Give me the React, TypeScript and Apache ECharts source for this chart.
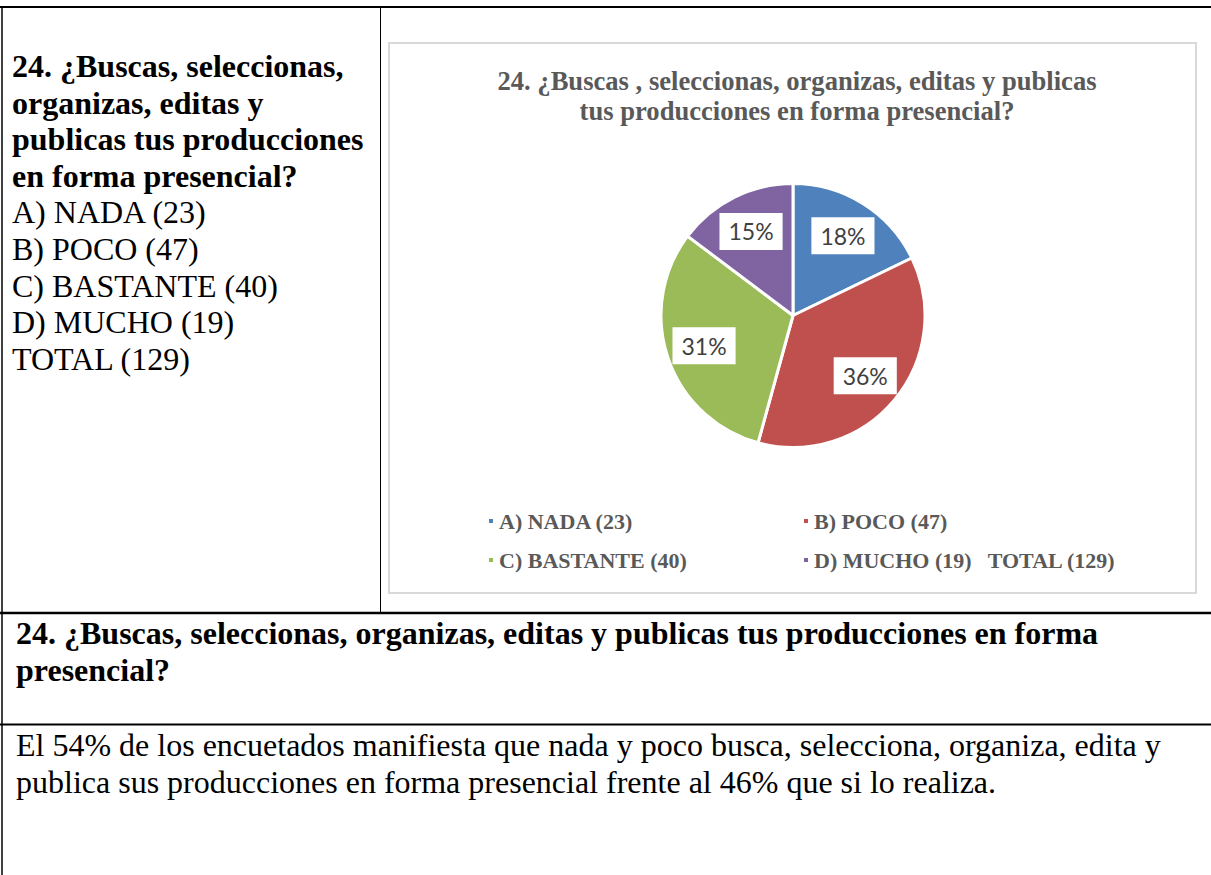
import React, { useEffect, useRef } from "react";
import * as echarts from "echarts";

const categories = ["A) NADA", "B) POCO", "C) BASTANTE", "D) MUCHO"];
const counts = [23, 47, 40, 19];
const colors = ["#4F81BD", "#C0504D", "#9BBB59", "#8064A2"];
const chartTitle = "24. ¿Buscas , seleccionas, organizas, editas y publicas\ntus producciones en forma presencial?";
const questionLines = ["24. ¿Buscas, seleccionas,", "organizas, editas y", "publicas tus producciones", "en forma presencial?"];
const bottomTitleLines = [
  "24. ¿Buscas, seleccionas, organizas, editas y publicas tus producciones en forma",
  "presencial?",
];
const analysisLines = [
  "El 54% de los encuetados manifiesta que nada y poco busca, selecciona, organiza, edita y",
  "publica sus producciones en forma presencial frente al 46% que si lo realiza.",
];

const SERIF = "'Liberation Serif', 'Times New Roman', serif";

export default function App() {
  const ref = useRef<HTMLDivElement>(null);
  useEffect(() => {
    if (!ref.current) return;
    const chart = echarts.init(ref.current, null, { renderer: "svg" });
    const total = counts.reduce((a, b) => a + b, 0);
    const names = categories.map((c, i) => `${c} (${counts[i]})`);
    names[names.length - 1] = `${names[names.length - 1]}   TOTAL (${total})`;
    const data = counts.map((v, i) => ({ name: names[i], value: v, itemStyle: { color: colors[i] } }));

    const graphics: any[] = [];
    // table lines
    const line = (x1: number, y1: number, x2: number, y2: number, w: number) =>
      graphics.push({ type: "line", shape: { x1, y1, x2, y2 }, style: { stroke: "#000", lineWidth: w }, silent: true });
    line(0, 7, 1211, 7, 2);
    line(2, 6, 2, 875, 1.5);
    line(380.5, 7, 380.5, 613, 1);
    line(0, 613, 1211, 613, 2.5);
    line(0, 724.5, 1211, 724.5, 2);
    // chart box
    graphics.push({
      type: "rect",
      shape: { x: 389, y: 43, width: 807, height: 550 },
      style: { fill: "#fff", stroke: "#D9D9D9", lineWidth: 2 },
      z: -10,
      silent: true,
    });
    const text = (t: string, x: number, y: number, bold: boolean) =>
      graphics.push({
        type: "text",
        x,
        y,
        style: {
          text: t,
          fill: "#000",
          font: `${bold ? "bold " : ""}32px ${SERIF}`,
          verticalAlign: "middle",
          align: "left",
        },
        silent: true,
      });
    const leftLines = [
      ...questionLines.map((t) => ({ t, b: true })),
      ...categories.map((c, i) => ({ t: `${c} (${counts[i]})`, b: false })),
      { t: `TOTAL (${total})`, b: false },
    ];
    leftLines.forEach((l, i) => text(l.t, 12, 66 + i * 36.6, l.b));
    bottomTitleLines.forEach((t, i) => text(t, 16, 633 + i * 37, true));
    analysisLines.forEach((t, i) => text(t, 16, 745 + i * 37, false));

    const legendText = { fontFamily: SERIF, fontWeight: "bold" as const, fontSize: 22, color: "#595959", lineHeight: 22 };
    const legendBase = {
      orient: "vertical",
      top: 505,
      icon: "rect",
      itemWidth: 6,
      itemHeight: 6,
      itemGap: 17,
      textStyle: legendText,
      selectedMode: false,
    };
    chart.setOption({
      animation: false,
      backgroundColor: "#fff",
      title: {
        text: chartTitle,
        left: 792,
        top: 61,
        textAlign: "center",
        textStyle: { fontFamily: SERIF, fontWeight: "bold", fontSize: 26.6, color: "#595959", lineHeight: 30 },
      },
      legend: [
        {
          ...legendBase,
          left: 482,
          data: [0, 2].map((i) => ({ name: names[i], itemStyle: { color: colors[i] } })),
        },
        {
          ...legendBase,
          left: 797,
          data: [1, 3].map((i) => ({ name: names[i], itemStyle: { color: colors[i] } })),
        },
      ],
      graphic: graphics,
      series: [
        {
          type: "pie",
          center: [793, 315.5],
          radius: [0, 132],
          startAngle: 90,
          clockwise: true,
          silent: true,
          label: { show: false },
          labelLine: { show: false },
          itemStyle: { borderColor: "#fff", borderWidth: 3 },
          emphasis: { disabled: true },
          data,
        },
        {
          type: "pie",
          center: [793, 315.5],
          radius: [50, 132],
          startAngle: 90,
          clockwise: true,
          silent: true,
          percentPrecision: 0,
          itemStyle: { color: "transparent", borderWidth: 0 },
          label: {
            show: true,
            position: "inside",
            formatter: "{d}%",
            fontFamily: "Lato, 'Noto Sans', sans-serif",
            fontSize: 23,
            lineHeight: 23,
            color: "#404040",
            backgroundColor: "#fff",
            padding: [7, 9],
          },
          labelLine: { show: false },
          emphasis: { disabled: true },
          data: counts.map((v, i) => ({ name: names[i], value: v, itemStyle: { color: "transparent" } })),
        },
      ],
    });
    return () => chart.dispose();
  }, []);
  return (
    <div
      ref={ref}
      style={{ position: "fixed", left: 0, top: 0, width: 1211, height: 875, background: "#fff" }}
    />
  );
}
